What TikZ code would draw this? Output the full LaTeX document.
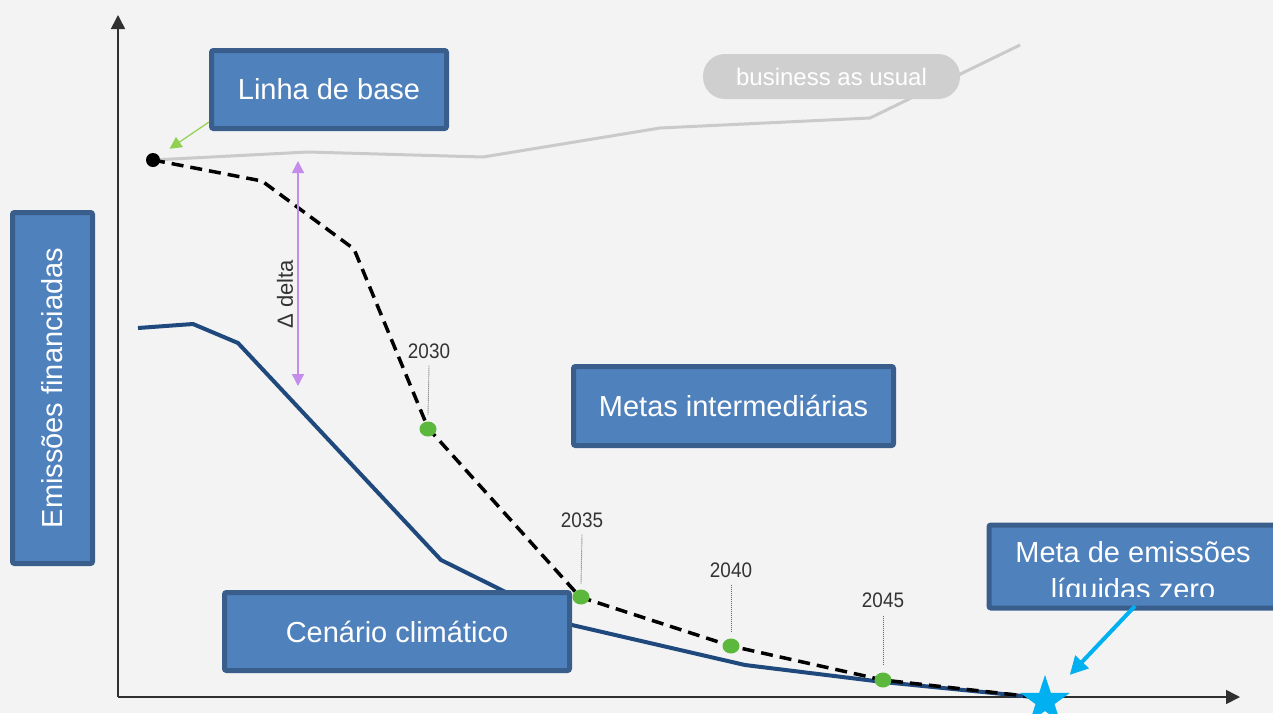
\documentclass[tikz,border=0pt]{standalone}
\usepackage{fontspec}
\setmainfont{Liberation Sans}
\newfontfamily\narrowfont[FakeStretch=0.9]{Liberation Sans}
\usetikzlibrary{arrows.meta,shapes.geometric}
\definecolor{bg}{HTML}{F3F3F3}
\definecolor{boxfill}{HTML}{4F81BD}
\definecolor{boxline}{HTML}{3A5E8C}
\definecolor{bauline}{HTML}{CACACA}
\definecolor{pill}{HTML}{D0CFCF}
\definecolor{climate}{HTML}{1F497D}
\definecolor{dotgreen}{HTML}{5CB83C}
\definecolor{lgreen}{HTML}{92D050}
\definecolor{deltacol}{HTML}{C58DEB}
\definecolor{starcyan}{HTML}{00B0F0}
\definecolor{txtgray}{HTML}{333333}
\definecolor{axisgray}{HTML}{303030}
\begin{document}
\begin{tikzpicture}[x=1pt,y=-1pt,
  box/.style={draw=boxline, line width=5pt, fill=boxfill, rounded corners=2pt, inner sep=0pt,
    text=white, font=\fontsize{29}{36}\selectfont, align=center},
  yeardot/.style={ellipse, fill=dotgreen, inner sep=0pt, minimum width=17pt, minimum height=15pt},
  leader/.style={draw=gray!80!black, line width=0.9pt, dash pattern=on 1pt off 1pt},
  yearlbl/.style={font=\narrowfont\fontsize{21}{21}\selectfont, text=txtgray, inner sep=0pt},
  axisline/.style={draw=axisgray, line width=1.6pt, -{Triangle[length=14pt,width=14pt]}},
]
\fill[bg] (0,0) rectangle (1273,713);
\useasboundingbox (0,0) rectangle (1273,713);

% business as usual line
\draw[bauline, line width=3pt, line join=round]
  (153,160) -- (308,152) -- (483,157) -- (660,128) -- (870,118) -- (1020,45);
\node[fill=pill, rounded corners=22pt, minimum width=257pt, minimum height=45pt, inner sep=0pt,
  text=white, font=\fontsize{24}{24}\selectfont] (bau) at (831.5,76.5) {business as usual};

% axes
\coordinate (origin) at (118,697);
\coordinate (ytop) at (118,15);
\coordinate (xend) at (1240,697);
\draw[axisline] (origin) -- (ytop);
\draw[axisline] (origin) -- (xend);

% climate scenario line
\draw[climate, line width=4pt, line join=round]
  (138,328) -- (193,324) -- (238,343) -- (441,560) -- (572,625) -- (745,665) -- (883,682) -- (1043,698);

% target path
\draw[black, line width=3.5pt, dash pattern=on 12pt off 7pt]
  (153,160) -- (262,181) -- (354,249) -- (428,428) -- (580,597) -- (731,646) -- (883,680) -- (1043,698);

\node[circle, fill=black, minimum size=14pt, inner sep=0pt] (base) at (153,160) {};

% milestones
\node[yeardot] (d2030) at (428,429) {};
\node[yeardot] (d2035) at (581,597) {};
\node[yeardot] (d2040) at (731,646) {};
\node[yeardot] (d2045) at (883,680) {};
\node[yearlbl] (l2030) at (429,351) {2030};
\node[yearlbl] (l2035) at (582,520) {2035};
\node[yearlbl] (l2040) at (731,570) {2040};
\node[yearlbl] (l2045) at (883,600) {2045};
\draw[leader] ([yshift=-7pt]l2030.south) -- ([yshift=6pt]d2030.north);
\draw[leader] ([yshift=-7pt]l2035.south) -- ([yshift=5pt]d2035.north);
\draw[leader] ([yshift=-7pt]l2040.south) -- ([yshift=6pt]d2040.north);
\draw[leader] ([yshift=-8pt]l2045.south) -- ([yshift=7pt]d2045.north);

% delta
\coordinate (dtop) at (298,161);
\coordinate (dbot) at (298,386);
\draw[deltacol, line width=1.3pt, {Triangle[length=12pt,width=12pt]}-{Triangle[length=12pt,width=12pt]}] (dtop) -- (dbot);
\node[rotate=90, font=\fontsize{22}{22}\selectfont, text=txtgray, inner sep=0pt] (dlabel) at (285,294) {Δ delta};

% boxes
\node[box, minimum width=235pt, minimum height=78pt] (linha) at (329,89.5) {Linha de base};
\node[box, rotate=90, minimum width=351pt, minimum height=80pt] (emis) at (52.5,388) {Emissões financiadas};
\node[box, minimum width=320pt, minimum height=79pt] (metas) at (733.5,406) {Metas intermediárias};
\node[box, minimum width=345pt, minimum height=78pt] (cen) at (397,631.5) {Cenário climático};
\node[box, minimum width=300pt, minimum height=83pt, anchor=north west] (meta) at (986.5,522.5) {};
\begin{scope}
  \clip (986,520) rectangle (1273,596);
  \node[anchor=base, text=white, font=\fontsize{29}{36}\selectfont, inner sep=0pt] (meta1) at (1133,562) {Meta de emissões};
  \node[anchor=base, text=white, font=\fontsize{29}{36}\selectfont, inner sep=0pt] (meta2) at (1133,599) {líquidas zero};
\end{scope}

% star
\node[star, star points=5, star point ratio=2.6, fill=starcyan, minimum size=52pt, inner sep=0pt] (star) at (1045,701) {};

% pointer arrows
\draw[lgreen, line width=1.2pt, -{Triangle[length=12pt,width=12pt]}, shorten >=20pt]
  ([yshift=9pt]linha.south west) -- (base.center);
\coordinate (cstart) at (1135,606);
\draw[starcyan, line width=4pt, -{Triangle[length=18pt,width=18pt]}, shorten >=36pt]
  (cstart) -- (star.center);
\end{tikzpicture}
\end{document}
